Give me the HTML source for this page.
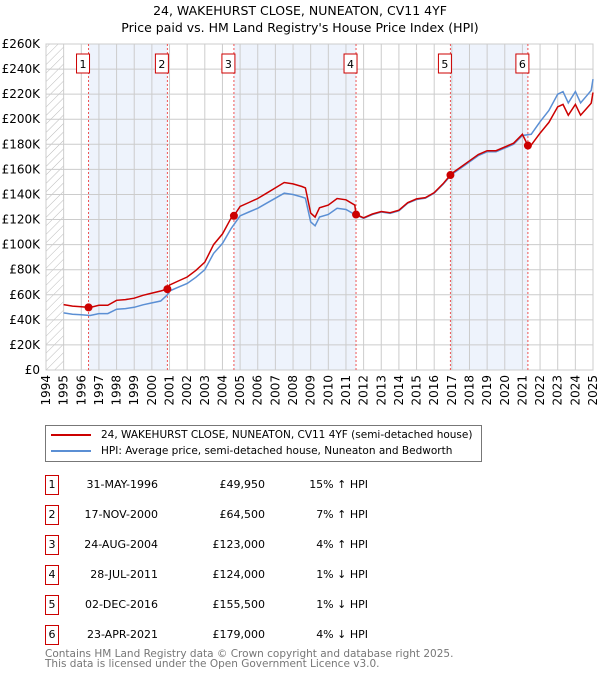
<!DOCTYPE html>
<html><head><meta charset="utf-8"><style>
body{margin:0;width:600px;height:680px;background:#fff;font-family:"DejaVu Sans","Liberation Sans",sans-serif;overflow:hidden;position:relative}
.t{position:absolute;left:0;width:600px;text-align:center;font-size:12.5px;color:#000}
.row{position:absolute;left:0;height:20px;font-size:11px;color:#000}
.row span{position:absolute;top:3px;white-space:nowrap}
.nb{position:absolute;left:45px;width:14px;height:20px;border:1px solid #c00;box-sizing:border-box;text-align:center;font-size:11px;line-height:17px}
.foot{position:absolute;left:45px;font-size:10.5px;color:#777}
</style></head><body>
<div class="t" style="top:3px">24, WAKEHURST CLOSE, NUNEATON, CV11 4YF</div>
<div class="t" style="top:20px">Price paid vs. HM Land Registry's House Price Index (HPI)</div>
<svg id="chart" width="600" height="420" style="position:absolute;left:0;top:0" font-family="DejaVu Sans, Liberation Sans, sans-serif"></svg>
<div style="position:absolute;left:45px;top:425px;width:437px;height:37px;border:1px solid #777;box-sizing:border-box;font-size:10.5px">
<div style="position:absolute;left:5px;top:3px;white-space:nowrap"><span style="display:inline-block;width:40px;height:2px;background:#c00;vertical-align:middle;margin-right:10px"></span>24, WAKEHURST CLOSE, NUNEATON, CV11 4YF (semi-detached house)</div>
<div style="position:absolute;left:5px;top:19px;white-space:nowrap"><span style="display:inline-block;width:40px;height:2px;background:#5b8fd4;vertical-align:middle;margin-right:10px"></span>HPI: Average price, semi-detached house, Nuneaton and Bedworth</div>
</div>
<div id="tbl"></div>
<div class="foot" style="top:649px;line-height:10px">Contains HM Land Registry data © Crown copyright and database right 2025.<br>This data is licensed under the Open Government Licence v3.0.</div>
<script>
const hpiT=[1995,1995.5,1996,1996.5,1997,1997.5,1998,1998.5,1999,1999.5,2000,2000.5,2000.88,2001,2001.5,2002,2002.5,2003,2003.5,2004,2004.5,2005,2005.5,2006,2006.5,2007,2007.5,2008,2008.5,2008.7,2009,2009.25,2009.5,2010,2010.5,2011,2011.5,2012,2012.5,2013,2013.5,2014,2014.5,2015,2015.5,2016,2016.5,2017,2017.5,2018,2018.5,2019,2019.5,2020,2020.5,2021,2021.5,2022,2022.5,2023,2023.3,2023.6,2024,2024.3,2024.6,2024.9,2025];
const hpiV=[45.5,44.5,44,43.5,45,45,48.5,49,50,52,53.5,55,60,63,66,69,74,80,93,101,113,123,126,129,133,137,141,140,138,137,118,115,122,124,129,128,124,121,124,126,125,127,133,136,137,141,148,156,161,166,171,174,174,177,180,187,188,198,207,220,222,213,222,213,218,223,232];
const saleT=[1996.41,2000.88,2004.65,2011.57,2016.92,2021.31];
const saleP=[49950,64500,123000,124000,155500,179000];
const saleLabels=["31-MAY-1996","17-NOV-2000","24-AUG-2004","28-JUL-2011","02-DEC-2016","23-APR-2021"];
const saleHpi=["15% ↑ HPI","7% ↑ HPI","4% ↑ HPI","1% ↓ HPI","1% ↓ HPI","4% ↓ HPI"];
const yTicks=[0,20,40,60,80,100,120,140,160,180,200,220,240,260];
const years=[1994,1995,1996,1997,1998,1999,2000,2001,2002,2003,2004,2005,2006,2007,2008,2009,2010,2011,2012,2013,2014,2015,2016,2017,2018,2019,2020,2021,2022,2023,2024,2025];
const X0=46,X1=593,Y0=370,Y1=44;
const xs=t=>X0+(t-1994)/31*(X1-X0);
const ys=v=>Y0-v/260*(Y0-Y1);
const NS="http://www.w3.org/2000/svg";
const svg=document.getElementById('chart');
function mk(tag,a,p){const e=document.createElementNS(NS,tag);for(const k in a)e.setAttribute(k,a[k]);(p||svg).appendChild(e);return e;}
function hpiAt(t){if(t<=hpiT[0])return hpiV[0];for(let i=1;i<hpiT.length;i++)if(t<=hpiT[i]){const f=(t-hpiT[i-1])/(hpiT[i]-hpiT[i-1]);return hpiV[i-1]+f*(hpiV[i]-hpiV[i-1]);}return hpiV[hpiV.length-1];}
const defs=mk('defs',{});
const pat=mk('pattern',{id:'hatch',width:6,height:6,patternUnits:'userSpaceOnUse',patternTransform:'rotate(45)'},defs);
mk('line',{x1:0,y1:0,x2:0,y2:6,stroke:'#bbb','stroke-width':1},pat);
let e=mk('rect',{x:X0,y:Y1,width:xs(1995)-X0,height:Y0-Y1,fill:'url(#hatch)'});

for(let i=0;i<saleT.length;i+=2){e=mk('rect',{x:xs(saleT[i]),y:Y1,width:xs(saleT[i+1])-xs(saleT[i]),height:Y0-Y1,fill:'#eef3fc'});
}
yTicks.forEach(v=>{mk('line',{x1:X0,x2:X1,y1:ys(v),y2:ys(v),stroke:'#ccc','stroke-width':1});
e=mk('text',{x:40,y:ys(v)+4,'text-anchor':'end','font-size':12,fill:'#000'});e.textContent='£'+v+(v?'K':'');
});
years.forEach(y=>{mk('line',{x1:xs(y),x2:xs(y),y1:Y1,y2:Y0,stroke:'#ccc','stroke-width':1});
e=mk('text',{x:0,y:0,'text-anchor':'end','font-size':12,fill:'#000',transform:`translate(${xs(y)+4},${Y0+5}) rotate(-90)`});e.textContent=y;
});
mk('rect',{x:X0,y:Y1,width:X1-X0,height:Y0-Y1,fill:'none',stroke:'#ccc'});
saleT.forEach(t=>mk('line',{x1:xs(t),x2:xs(t),y1:Y1,y2:Y0,stroke:'#e55','stroke-width':1,'stroke-dasharray':'2,2'}));
let d='';hpiT.forEach((t,i)=>d+=(i?'L':'M')+xs(t).toFixed(1)+','+ys(hpiV[i]).toFixed(1));
e=mk('path',{d:d,fill:'none',stroke:'#5b8fd4','stroke-width':1.5});

const ts=[...hpiT,...saleT].sort((a,b)=>a-b);
function factor(t){let k=0;for(let i=0;i<saleT.length;i++)if(t>=saleT[i])k=i;return saleP[k]/1000/hpiAt(saleT[k]);}
d='';ts.forEach((t,i)=>d+=(i?'L':'M')+xs(t).toFixed(1)+','+ys(hpiAt(t)*factor(t)).toFixed(1));
e=mk('path',{d:d,fill:'none',stroke:'#c00','stroke-width':1.5});

saleT.forEach((t,i)=>{e=mk('circle',{cx:xs(t),cy:ys(saleP[i]/1000),r:4,fill:'#c00'});

const g=mk('g',{});
mk('rect',{x:xs(t)-12,y:54,width:13,height:19,fill:'#fff',stroke:'#c00'},g);
const tx=mk('text',{x:xs(t)-5.5,y:68,'text-anchor':'middle','font-size':11,fill:'#000'},g);tx.textContent=i+1;});
const tbl=document.getElementById('tbl');
saleT.forEach((t,i)=>{const r=document.createElement('div');r.className='row';r.style.top=(475+i*30)+'px';


r.innerHTML=`<div class="nb">${i+1}</div><span style="right:442px">${saleLabels[i]}</span><span style="right:335px">£${saleP[i].toLocaleString('en-GB')}</span><span style="right:232px">${saleHpi[i]}</span>`;
r.style.width='600px';tbl.appendChild(r);});
</script>
</body></html>
